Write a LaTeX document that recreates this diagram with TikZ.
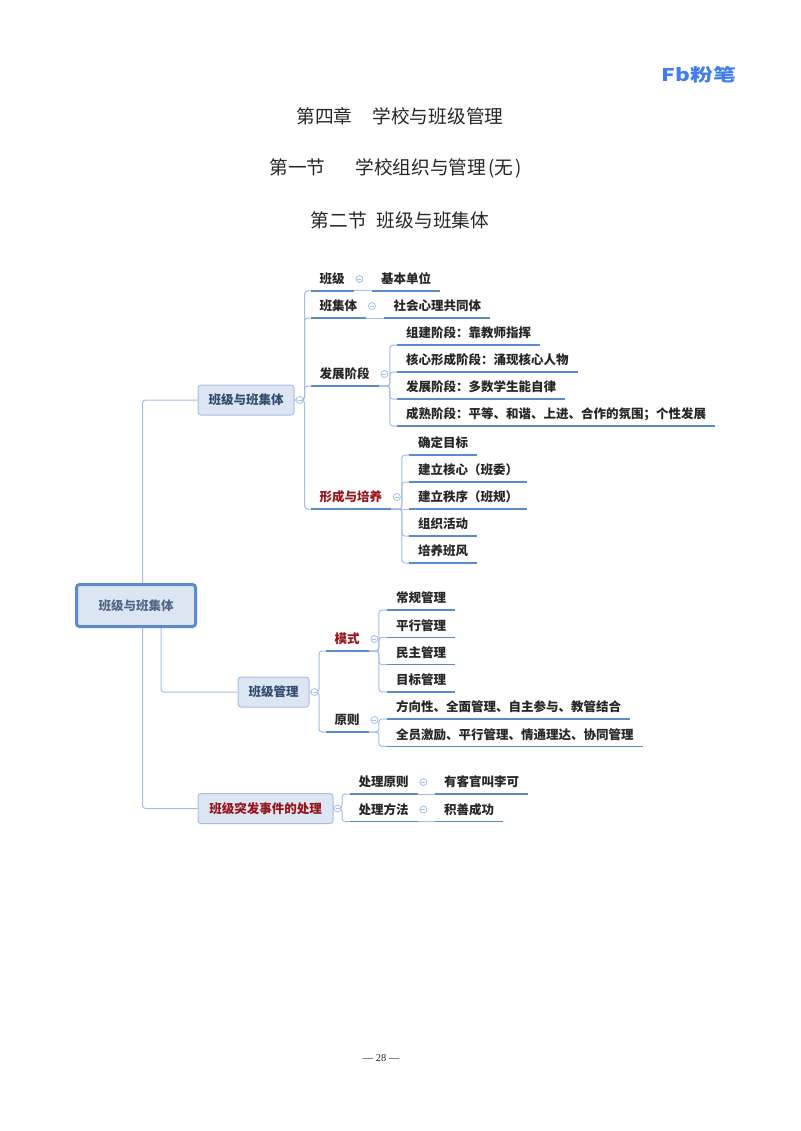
\documentclass[tikz,border=0pt]{standalone}
\usepackage{fontspec}
\setmainfont{Noto Sans CJK SC}
\newfontfamily\pagefont{Liberation Serif}
\usetikzlibrary{positioning}
\definecolor{linecol}{RGB}{165,190,230}
\definecolor{ulcol}{RGB}{90,140,205}
\definecolor{fillcol}{RGB}{220,230,243}
\definecolor{boxtext}{RGB}{50,75,110}
\definecolor{redtext}{RGB}{150,20,25}
\definecolor{logocol}{RGB}{65,125,235}
\begin{document}
\begin{tikzpicture}[x=1pt,y=-1pt]
\tikzstyle{heading}=[font=\fontsize{18.7}{20}\selectfont, text=black!85]
\tikzstyle{topic}=[draw=linecol, line width=1pt, fill=fillcol, rounded corners=3pt, minimum height=30pt, inner sep=0pt, font=\fontsize{12.5}{14}\bfseries\selectfont, text=boxtext]
\tikzstyle{root}=[topic, draw=ulcol, line width=3pt, minimum width=119pt, minimum height=42pt, text=boxtext!85!white]
\tikzstyle{leaf}=[inner xsep=9pt, inner ysep=0pt, minimum height=26pt, text height=14pt, text depth=2pt, font=\fontsize{12.5}{14}\bfseries\selectfont, text=black!85]
\tikzstyle{connect}=[draw=linecol, line width=1pt, rounded corners=3pt]
\tikzstyle{under}=[draw=ulcol, line width=1.5pt]
\tikzstyle{knob}=[circle, draw=linecol, fill=white, line width=0.8pt, inner sep=0pt, minimum size=7pt, anchor=center, path picture={\draw[linecol, line width=0.6pt] ([xshift=-2pt]path picture bounding box.center) -- ([xshift=2pt]path picture bounding box.center);}]

  \useasboundingbox (0,0) rectangle (800,1131);

  \node[font=\fontsize{17.5}{19}\bfseries\selectfont, text=logocol] (logo) at (699,75) {\scalebox{1.3}[1]{Fb粉笔}};
  \node[heading] (h1) at (400,116) {第四章\hspace{20pt}学校与班级管理};
  \node[heading] (h2) at (395.5,168) {第一节\hspace{30pt}学校组织与管理\hspace{2pt}(无\hspace{2pt})};
  \node[heading] (h3) at (400,220) {第二节\hspace{10pt}班级与班集体};
  \node[font=\fontsize{10.5}{12}\pagefont, text=black!85] (page) at (381,1058) {— 28 —};

  \node[root] (r) at (136,605.5) {班级与班集体};
  \node[topic, minimum width=96pt] (t1) at (246,400) {班级与班集体};
  \node[topic, minimum width=71pt] (t2) at (273.5,692) {班级管理};
  \node[topic, minimum width=135pt, text=redtext] (t3) at (265.5,808.5) {班级突发事件的处理};

  % first branch
  \node[leaf, above right=109pt and 16pt of t1.east, anchor=south west] (a1) {班级};
  \node[leaf, right=18pt of a1.south east, anchor=south west] (a1x) {基本单位};
  \node[leaf, below=27pt of a1.south west, anchor=south west] (a2) {班集体};
  \node[leaf, right=18pt of a2.south east, anchor=south west] (a2x) {社会心理共同体};
  \node[leaf, below=68pt of a2.south west, anchor=south west] (a3) {发展阶段};
  \node[leaf, below=123pt of a3.south west, anchor=south west, text=redtext] (a4) {形成与培养};

  \node[leaf, above right=41pt and 18pt of a3.south east, anchor=south west] (b1) {组建阶段：靠教师指挥};
  \node[leaf, below=27pt of b1.south west, anchor=south west] (b2) {核心形成阶段：涌现核心人物};
  \node[leaf, below=27pt of b2.south west, anchor=south west] (b3) {发展阶段：多数学生能自律};
  \node[leaf, below=27pt of b3.south west, anchor=south west] (b4) {成熟阶段：平等、和谐、上进、合作的氛围；个性发展};

  \node[leaf, above right=54pt and 17.5pt of a4.south east, anchor=south west] (c1) {确定目标};
  \node[leaf, below=27pt of c1.south west, anchor=south west] (c2) {建立核心（班委）};
  \node[leaf, below=27pt of c2.south west, anchor=south west] (c3) {建立秩序（班规）};
  \node[leaf, below=27pt of c3.south west, anchor=south west] (c4) {组织活动};
  \node[leaf, below=27pt of c4.south west, anchor=south west] (c5) {培养班风};

  % second branch
  \node[leaf, above right=41pt and 16pt of t2.east, anchor=south west, text=redtext] (d1) {模式};
  \node[leaf, below=81pt of d1.south west, anchor=south west] (d2) {原则};

  \node[leaf, above right=41pt and 18pt of d1.south east, anchor=south west] (e1) {常规管理};
  \node[leaf, below=27.3pt of e1.south west, anchor=south west] (e2) {平行管理};
  \node[leaf, below=27.3pt of e2.south west, anchor=south west] (e3) {民主管理};
  \node[leaf, below=27.3pt of e3.south west, anchor=south west] (e4) {目标管理};
  \node[leaf, above right=13pt and 18pt of d2.south east, anchor=south west] (f1) {方向性、全面管理、自主参与、教管结合};
  \node[leaf, below=27.3pt of f1.south west, anchor=south west] (f2) {全员激励、平行管理、情通理达、协同管理};

  % third branch
  \node[leaf, above right=14.5pt and 16pt of t3.east, anchor=south west] (g1) {处理原则};
  \node[leaf, right=17pt of g1.south east, anchor=south west] (g1x) {有客官叫李可};
  \node[leaf, below=27.5pt of g1.south west, anchor=south west] (g2) {处理方法};
  \node[leaf, right=17pt of g2.south east, anchor=south west] (g2x) {积善成功};

  \draw[connect] ([xshift=6.5pt]r.north) |- (t1.west);
  \draw[connect] ([xshift=25pt]r.south) |- (t2.west);
  \draw[connect] ([xshift=6.5pt]r.south) |- (t3.west);

  \foreach \from/\to/\dist in {t1/a1/10, t1/a2/10, t1/a3/10, t1/a4/10, t2/d1/9.5, t2/d2/9.5, t3/g1/8.5, t3/g2/8.5}
    \draw[connect] (\from.east) -- ++(\dist,0) |- (\to.south west);
  \foreach \from/\to/\dist in {a3/b1/11, a3/b2/11, a3/b3/11, a3/b4/11, a4/c1/10.5, a4/c2/10.5, a4/c4/10.5, a4/c5/10.5, d1/e1/10, d1/e2/10, d1/e3/10, d1/e4/10, d2/f1/10, d2/f2/10}
    \draw[connect] (\from.south east) -- ++(\dist,0) |- (\to.south west);
  \foreach \from/\to in {a1/a1x, a2/a2x, g1/g1x, g2/g2x, a4/c3}
    \draw[connect] (\from.south east) -- (\to.south west);
  \foreach \leaf in {a1,a1x,a2,a2x,a3,a4,b1,b2,b3,b4,c1,c2,c3,c4,c5,d1,d2,e1,e2,e3,e4,f1,f2,g1,g1x,g2,g2x}
    \draw[under] (\leaf.south west) -- (\leaf.south east);

  \node[knob, right=5pt of t1.east, anchor=center] (kt1) {};
  \node[knob, right=5pt of t2.east, anchor=center] (kt2) {};
  \node[knob, right=4pt of t3.east, anchor=center] (kt3) {};
  \foreach \leaf in {a1,a2,a3,a4,d1,d2,g1,g2}
    \node[knob, above right=12pt and 5.5pt of \leaf.south east, anchor=center] (k\leaf) {};

\end{tikzpicture}
\end{document}
